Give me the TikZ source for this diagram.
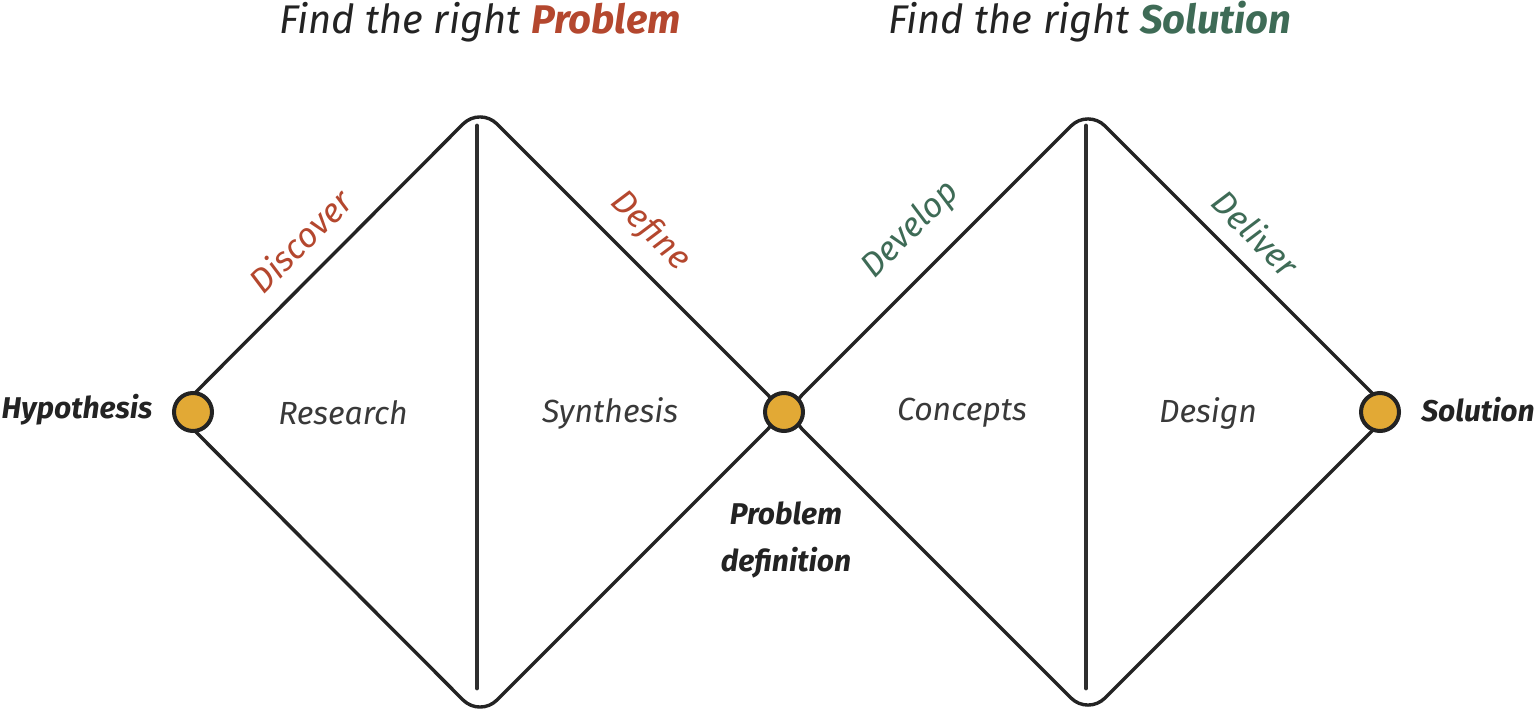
\documentclass[tikz,border=0pt]{standalone}
\usepackage{fontspec}
\setmainfont{Fira Sans}
\definecolor{ink}{HTML}{232323}
\definecolor{rust}{HTML}{B4472E}
\definecolor{pine}{HTML}{3E6B56}
\definecolor{gold}{HTML}{E2A935}
\begin{document}
\begin{tikzpicture}[x=0.5pt,y=-0.5pt,
  edge/.style={draw=ink,line width=1.7pt,rounded corners=12pt,line join=round},
  divider/.style={draw=ink!95,line width=2.4pt,line cap=round},
  dot/.style={circle,draw=ink,line width=2pt,fill=gold,minimum size=19pt,inner sep=0pt},
  phase/.style={font=\itshape\fontsize{17}{20}\selectfont},
  area/.style={font=\itshape\fontsize{16}{19}\selectfont,text=ink!90},
  milestone/.style={font=\bfseries\itshape\fontsize{15}{23.5}\selectfont,text=ink,align=center},
  title/.style={font=\itshape\fontsize{20}{24}\selectfont,text=ink}]
\useasboundingbox (0,0) rectangle (1537,710);
% vertices
\coordinate (L1) at (176,412);
\coordinate (T1) at (480,107);
\coordinate (M)  at (785,412);
\coordinate (B1) at (480,717);
\coordinate (T2) at (1088,109);
\coordinate (R2) at (1391,412);
\coordinate (B2) at (1088,715);
% diamonds
\draw[edge] (L1) -- (T1) -- (M) -- (B1) -- cycle;
\draw[edge] (M) -- (T2) -- (R2) -- (B2) -- cycle;
% dividers
\coordinate (d1t) at (477,126); \coordinate (d1b) at (477,688);
\coordinate (d2t) at (1086,126); \coordinate (d2b) at (1086,688);
\draw[divider] (d1t) -- (d1b);
\draw[divider] (d2t) -- (d2b);
% dots
\node[dot] (hyp) at (193,412) {};
\node[dot] (mid) at (784,412) {};
\node[dot] (sol) at (1380,412) {};
% titles
\node[title] (t1) at (480,22) {Find the right \textcolor{rust}{\bfseries Problem}};
\node[title] (t2) at (1090,22) {Find the right \textcolor{pine}{\bfseries Solution}};
% phases
\node[phase,text=rust,rotate=45] (disc) at (300,241) {Discover};
\node[phase,text=rust,rotate=-45] (defi) at (650,231) {Define};
\node[phase,text=pine,rotate=45] (deve) at (911,230) {Develop};
\node[phase,text=pine,rotate=-45] (deli) at (1256,233) {Deliver};
% areas
\node[area] (res) at (343,413) {Research};
\node[area] (syn) at (610,413) {Synthesis};
\node[area] (con) at (962,413) {Concepts};
\node[area] (des) at (1208,413) {Design};
% milestones
\node[milestone] (hyplab) at (77,410) {Hypothesis};
\node[milestone] (sollab) at (1478,410) {Solution};
\node[milestone] (pdlab) at (786,540) {Problem\\definition};
\end{tikzpicture}
\end{document}
